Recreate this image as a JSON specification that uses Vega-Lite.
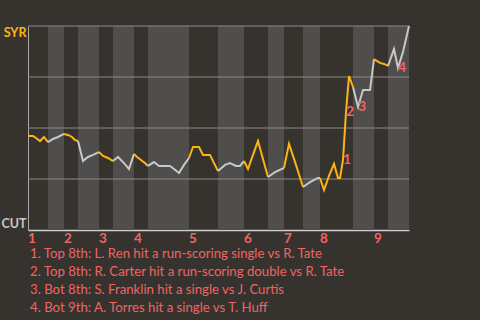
{
  "$schema": "https://vega.github.io/schema/vega-lite/v6.json",
  "width": 381,
  "height": 204,
  "autosize": "none",
  "padding": {"left": 28, "top": 26, "right": 71, "bottom": 90},
  "background": "#36332f",
  "config": {
    "view": {"stroke": null, "fill": "#36332f"},
    "font": "Lato"
  },
  "title": {
    "text": [
      "1. Top 8th: L. Ren hit a run-scoring single vs R. Tate",
      "2. Top 8th: R. Carter hit a run-scoring double vs R. Tate",
      "3. Bot 8th: S. Franklin hit a single vs J. Curtis",
      "4. Bot 9th: A. Torres hit a single vs T. Huff"
    ],
    "orient": "bottom",
    "anchor": "start",
    "frame": "group",
    "align": "left",
    "color": "#f06464",
    "font": "Lato",
    "fontSize": 13.2,
    "fontWeight": "normal",
    "lineHeight": 18,
    "offset": 2,
    "dx": 2
  },
  "datasets": {
    "halves": [
      {"half": "1T", "inning": "1", "side": "top", "start": 0, "end": 20},
      {"half": "1B", "inning": "1", "side": "bottom", "start": 20, "end": 36},
      {"half": "2T", "inning": "2", "side": "top", "start": 36, "end": 50},
      {"half": "2B", "inning": "2", "side": "bottom", "start": 50, "end": 71},
      {"half": "3T", "inning": "3", "side": "top", "start": 71, "end": 85},
      {"half": "3B", "inning": "3", "side": "bottom", "start": 85, "end": 106},
      {"half": "4T", "inning": "4", "side": "top", "start": 106, "end": 120},
      {"half": "4B", "inning": "4", "side": "bottom", "start": 120, "end": 161},
      {"half": "5T", "inning": "5", "side": "top", "start": 161, "end": 190},
      {"half": "5B", "inning": "5", "side": "bottom", "start": 190, "end": 216},
      {"half": "6T", "inning": "6", "side": "top", "start": 216, "end": 240},
      {"half": "6B", "inning": "6", "side": "bottom", "start": 240, "end": 256},
      {"half": "7T", "inning": "7", "side": "top", "start": 256, "end": 275},
      {"half": "7B", "inning": "7", "side": "bottom", "start": 275, "end": 292},
      {"half": "8T", "inning": "8", "side": "top", "start": 292, "end": 325},
      {"half": "8B", "inning": "8", "side": "bottom", "start": 325, "end": 346},
      {"half": "9T", "inning": "9", "side": "top", "start": 346, "end": 360},
      {"half": "9B", "inning": "9", "side": "bottom", "start": 360, "end": 381}
    ],
    "grid": [{"p": 0.25}, {"p": 0.5}, {"p": 0.75}, {"p": 1}],
    "wp": [
      {"half": "1T", "side": "top", "x": 0, "p": 0.461},
      {"half": "1T", "side": "top", "x": 5, "p": 0.461},
      {"half": "1T", "side": "top", "x": 8, "p": 0.451},
      {"half": "1T", "side": "top", "x": 12, "p": 0.436},
      {"half": "1T", "side": "top", "x": 16, "p": 0.456},
      {"half": "1T", "side": "top", "x": 20, "p": 0.431},
      {"half": "1B", "side": "bottom", "x": 20, "p": 0.431},
      {"half": "1B", "side": "bottom", "x": 25, "p": 0.446},
      {"half": "1B", "side": "bottom", "x": 30, "p": 0.456},
      {"half": "1B", "side": "bottom", "x": 36, "p": 0.471},
      {"half": "2T", "side": "top", "x": 36, "p": 0.471},
      {"half": "2T", "side": "top", "x": 40, "p": 0.466},
      {"half": "2T", "side": "top", "x": 44, "p": 0.456},
      {"half": "2T", "side": "top", "x": 47, "p": 0.441},
      {"half": "2T", "side": "top", "x": 50, "p": 0.436},
      {"half": "2B", "side": "bottom", "x": 50, "p": 0.436},
      {"half": "2B", "side": "bottom", "x": 55, "p": 0.338},
      {"half": "2B", "side": "bottom", "x": 60, "p": 0.358},
      {"half": "2B", "side": "bottom", "x": 65, "p": 0.368},
      {"half": "2B", "side": "bottom", "x": 71, "p": 0.382},
      {"half": "3T", "side": "top", "x": 71, "p": 0.382},
      {"half": "3T", "side": "top", "x": 75, "p": 0.363},
      {"half": "3T", "side": "top", "x": 80, "p": 0.353},
      {"half": "3T", "side": "top", "x": 85, "p": 0.338},
      {"half": "3B", "side": "bottom", "x": 85, "p": 0.338},
      {"half": "3B", "side": "bottom", "x": 90, "p": 0.358},
      {"half": "3B", "side": "bottom", "x": 96, "p": 0.328},
      {"half": "3B", "side": "bottom", "x": 101, "p": 0.299},
      {"half": "3B", "side": "bottom", "x": 106, "p": 0.373},
      {"half": "4T", "side": "top", "x": 106, "p": 0.373},
      {"half": "4T", "side": "top", "x": 109, "p": 0.358},
      {"half": "4T", "side": "top", "x": 113, "p": 0.343},
      {"half": "4T", "side": "top", "x": 117, "p": 0.328},
      {"half": "4T", "side": "top", "x": 120, "p": 0.314},
      {"half": "4B", "side": "bottom", "x": 120, "p": 0.314},
      {"half": "4B", "side": "bottom", "x": 126, "p": 0.333},
      {"half": "4B", "side": "bottom", "x": 131, "p": 0.314},
      {"half": "4B", "side": "bottom", "x": 137, "p": 0.314},
      {"half": "4B", "side": "bottom", "x": 142, "p": 0.314},
      {"half": "4B", "side": "bottom", "x": 146, "p": 0.299},
      {"half": "4B", "side": "bottom", "x": 151, "p": 0.279},
      {"half": "4B", "side": "bottom", "x": 156, "p": 0.319},
      {"half": "4B", "side": "bottom", "x": 161, "p": 0.353},
      {"half": "5T", "side": "top", "x": 161, "p": 0.353},
      {"half": "5T", "side": "top", "x": 165, "p": 0.407},
      {"half": "5T", "side": "top", "x": 171, "p": 0.407},
      {"half": "5T", "side": "top", "x": 175, "p": 0.368},
      {"half": "5T", "side": "top", "x": 182, "p": 0.368},
      {"half": "5T", "side": "top", "x": 186, "p": 0.328},
      {"half": "5T", "side": "top", "x": 190, "p": 0.289},
      {"half": "5B", "side": "bottom", "x": 190, "p": 0.289},
      {"half": "5B", "side": "bottom", "x": 197, "p": 0.319},
      {"half": "5B", "side": "bottom", "x": 202, "p": 0.328},
      {"half": "5B", "side": "bottom", "x": 208, "p": 0.314},
      {"half": "5B", "side": "bottom", "x": 212, "p": 0.314},
      {"half": "5B", "side": "bottom", "x": 216, "p": 0.338},
      {"half": "6T", "side": "top", "x": 216, "p": 0.338},
      {"half": "6T", "side": "top", "x": 220, "p": 0.299},
      {"half": "6T", "side": "top", "x": 225, "p": 0.368},
      {"half": "6T", "side": "top", "x": 230, "p": 0.436},
      {"half": "6T", "side": "top", "x": 235, "p": 0.348},
      {"half": "6T", "side": "top", "x": 240, "p": 0.26},
      {"half": "6B", "side": "bottom", "x": 240, "p": 0.26},
      {"half": "6B", "side": "bottom", "x": 247, "p": 0.284},
      {"half": "6B", "side": "bottom", "x": 256, "p": 0.304},
      {"half": "7T", "side": "top", "x": 256, "p": 0.304},
      {"half": "7T", "side": "top", "x": 261, "p": 0.422},
      {"half": "7T", "side": "top", "x": 268, "p": 0.319},
      {"half": "7T", "side": "top", "x": 275, "p": 0.211},
      {"half": "7B", "side": "bottom", "x": 275, "p": 0.211},
      {"half": "7B", "side": "bottom", "x": 282, "p": 0.235},
      {"half": "7B", "side": "bottom", "x": 290, "p": 0.255},
      {"half": "7B", "side": "bottom", "x": 292, "p": 0.255},
      {"half": "8T", "side": "top", "x": 292, "p": 0.255},
      {"half": "8T", "side": "top", "x": 296, "p": 0.196},
      {"half": "8T", "side": "top", "x": 301, "p": 0.265},
      {"half": "8T", "side": "top", "x": 306, "p": 0.324},
      {"half": "8T", "side": "top", "x": 310, "p": 0.255},
      {"half": "8T", "side": "top", "x": 312, "p": 0.255},
      {"half": "8T", "side": "top", "x": 315, "p": 0.343},
      {"half": "8T", "side": "top", "x": 318, "p": 0.578},
      {"half": "8T", "side": "top", "x": 321, "p": 0.755},
      {"half": "8T", "side": "top", "x": 325, "p": 0.701},
      {"half": "8B", "side": "bottom", "x": 325, "p": 0.701},
      {"half": "8B", "side": "bottom", "x": 330, "p": 0.603},
      {"half": "8B", "side": "bottom", "x": 335, "p": 0.686},
      {"half": "8B", "side": "bottom", "x": 342, "p": 0.686},
      {"half": "8B", "side": "bottom", "x": 346, "p": 0.838},
      {"half": "9T", "side": "top", "x": 346, "p": 0.838},
      {"half": "9T", "side": "top", "x": 352, "p": 0.819},
      {"half": "9T", "side": "top", "x": 356, "p": 0.814},
      {"half": "9T", "side": "top", "x": 360, "p": 0.804},
      {"half": "9B", "side": "bottom", "x": 360, "p": 0.804},
      {"half": "9B", "side": "bottom", "x": 366, "p": 0.887},
      {"half": "9B", "side": "bottom", "x": 370, "p": 0.794},
      {"half": "9B", "side": "bottom", "x": 375, "p": 0.873},
      {"half": "9B", "side": "bottom", "x": 381, "p": 1.0}
    ],
    "events": [
      {"n": "1", "x": 315, "p": 0.343},
      {"n": "2", "x": 318, "p": 0.578},
      {"n": "3", "x": 330, "p": 0.603},
      {"n": "4", "x": 370, "p": 0.794}
    ]
  },
  "layer": [
    {
      "data": {"name": "halves"},
      "transform": [{"filter": "datum.side == 'bottom'"}],
      "mark": {"type": "rect", "color": "#4f4e4c"},
      "encoding": {
        "x": {
          "field": "start",
          "type": "quantitative",
          "scale": {"domain": [0, 381], "nice": false, "zero": false},
          "axis": {"title": null, "labels": false, "ticks": false, "grid": false, "domainColor": "#cfcfcf", "domainWidth": 1.5}
        },
        "x2": {"field": "end"},
        "y": {"datum": 0, "type": "quantitative"},
        "y2": {"datum": 1}
      }
    },
    {
      "data": {"name": "grid"},
      "mark": {"type": "rule", "color": "#8c8a87", "strokeWidth": 1},
      "encoding": {
        "y": {
          "field": "p",
          "type": "quantitative",
          "scale": {"domain": [0, 1], "nice": false},
          "axis": {
            "title": null,
            "values": [0, 1],
            "labelExpr": "datum.value == 1 ? 'SYR' : 'CUT'",
            "labelFlush": true,
            "labelPadding": 2,
            "ticks": false,
            "grid": false,
            "domainColor": "#a9a9a9",
            "labelFont": "Lato",
            "labelFontSize": 12.5,
            "labelFontWeight": "bold",
            "labelColor": {"condition": {"test": "datum.value == 1", "value": "#fcb316"}, "value": "#c8c8c8"}
          }
        }
      }
    },
    {
      "data": {"name": "wp"},
      "mark": {"type": "line", "strokeWidth": 2, "strokeJoin": "miter"},
      "encoding": {
        "x": {"field": "x", "type": "quantitative"},
        "y": {"field": "p", "type": "quantitative"},
        "detail": {"field": "half"},
        "color": {
          "field": "side",
          "type": "nominal",
          "scale": {"domain": ["top", "bottom"], "range": ["#fcb316", "#c8c8c8"]},
          "legend": null
        }
      }
    },
    {
      "data": {"name": "halves"},
      "transform": [{"filter": "datum.side == 'top'"}],
      "mark": {"type": "text", "align": "center", "baseline": "middle", "dx": 4, "dy": 9, "font": "Lato", "fontSize": 13.5, "fontWeight": "bold", "color": "#f06464"},
      "encoding": {
        "x": {"field": "start", "type": "quantitative"},
        "y": {"datum": 0, "type": "quantitative"},
        "text": {"field": "inning"}
      }
    },
    {
      "data": {"name": "events"},
      "mark": {"type": "text", "align": "left", "baseline": "middle", "dx": 0, "dy": 0, "font": "Lato", "fontSize": 14, "fontWeight": "bold", "color": "#f06464"},
      "encoding": {
        "x": {"field": "x", "type": "quantitative"},
        "y": {"field": "p", "type": "quantitative"},
        "text": {"field": "n"}
      }
    }
  ]
}
